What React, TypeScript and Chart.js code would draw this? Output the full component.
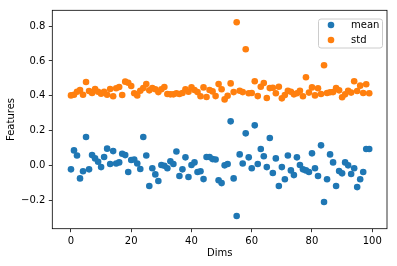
import React, { useEffect, useRef } from "react";
import { Chart, registerables } from "chart.js";

Chart.register(...registerables);

const dims: number[] = Array.from({ length: 100 }, (_, i) => i);

const meanValues: number[] = [
  -0.023, 0.086, 0.057, -0.075, -0.034, 0.163, -0.023, 0.059, 0.040, 0.021,
  -0.010, 0.048, 0.096, 0.008, 0.082, 0.011, 0.017, 0.067, 0.059, -0.038,
  0.031, 0.034, 0.011, -0.021, 0.163, 0.057, -0.119, -0.017, -0.052, -0.090,
  0.002, -0.002, -0.017, 0.023, 0.008, 0.080, -0.061, -0.023, 0.046, -0.067,
  0.002, 0.017, -0.038, -0.034, -0.079, 0.048, 0.048, 0.036, 0.034, -0.086,
  -0.102, 0.000, 0.008, 0.253, -0.075, -0.291, 0.063, 0.011, 0.184, 0.046,
  -0.017, 0.230, 0.008, 0.094, 0.052, -0.010, 0.157, -0.044, 0.040, -0.119,
  -0.010, -0.080, 0.057, -0.029, -0.056, 0.046, 0.002, -0.023, -0.029, -0.038,
  0.069, -0.017, -0.061, 0.115, -0.211, -0.080, 0.063, 0.017, -0.119, -0.033,
  -0.046, 0.017, 0.000, -0.050, -0.017, -0.125, -0.080, -0.038, 0.094, 0.094,
];

const stdValues: number[] = [
  0.402, 0.406, 0.423, 0.433, 0.406, 0.479, 0.427, 0.416, 0.439, 0.423,
  0.412, 0.423, 0.406, 0.439, 0.397, 0.443, 0.450, 0.404, 0.481, 0.475,
  0.456, 0.414, 0.402, 0.429, 0.444, 0.467, 0.431, 0.444, 0.437, 0.421,
  0.437, 0.450, 0.410, 0.408, 0.408, 0.414, 0.410, 0.416, 0.437, 0.423,
  0.448, 0.433, 0.421, 0.397, 0.448, 0.393, 0.433, 0.425, 0.398, 0.467,
  0.437, 0.379, 0.400, 0.471, 0.421, 0.822, 0.429, 0.421, 0.667, 0.414,
  0.416, 0.483, 0.398, 0.452, 0.473, 0.387, 0.444, 0.446, 0.414, 0.452,
  0.385, 0.404, 0.429, 0.423, 0.408, 0.414, 0.429, 0.397, 0.506, 0.418,
  0.448, 0.402, 0.443, 0.410, 0.575, 0.416, 0.420, 0.421, 0.444, 0.431,
  0.391, 0.408, 0.429, 0.418, 0.483, 0.427, 0.458, 0.416, 0.466, 0.414,
];

const seriesLabels: string[] = ["mean", "std"];
const seriesColors: string[] = ["#1f77b4", "#ff7f0e"];
const xTicks: number[] = [0, 20, 40, 60, 80, 100];
const yTicks: number[] = [-0.2, 0, 0.2, 0.4, 0.6, 0.8];

const FONT = "'DejaVu Sans', sans-serif";

const framePlugin = {
  id: "frameAndLegend",
  afterDraw(chart: any) {
    const { ctx, chartArea } = chart;
    const { left, right, top, bottom } = chartArea;
    ctx.save();
    ctx.strokeStyle = "#000";
    ctx.lineWidth = 0.8;
    ctx.strokeRect(left, top, right - left, bottom - top);

    // legend (upper right, inside axes)
    const bx = 318.5, by = 19, bw = 64, bh = 29, r = 2.5;
    ctx.beginPath();
    ctx.moveTo(bx + r, by);
    ctx.lineTo(bx + bw - r, by);
    ctx.arcTo(bx + bw, by, bx + bw, by + r, r);
    ctx.lineTo(bx + bw, by + bh - r);
    ctx.arcTo(bx + bw, by + bh, bx + bw - r, by + bh, r);
    ctx.lineTo(bx + r, by + bh);
    ctx.arcTo(bx, by + bh, bx, by + bh - r, r);
    ctx.lineTo(bx, by + r);
    ctx.arcTo(bx, by, bx + r, by, r);
    ctx.closePath();
    ctx.fillStyle = "rgba(255,255,255,0.8)";
    ctx.fill();
    ctx.strokeStyle = "#cccccc";
    ctx.lineWidth = 1;
    ctx.stroke();

    ctx.font = `10px ${FONT}`;
    ctx.textBaseline = "middle";
    ctx.textAlign = "left";
    chart.data.datasets.forEach((ds: any, i: number) => {
      const y = 25 + i * 15;
      ctx.beginPath();
      ctx.arc(331, y, 3.3, 0, Math.PI * 2);
      ctx.fillStyle = ds.backgroundColor;
      ctx.fill();
      ctx.fillStyle = "#000";
      ctx.fillText(ds.label, 351, y);
    });
    ctx.restore();
  },
};

export default function App() {
  const ref = useRef<HTMLCanvasElement | null>(null);

  useEffect(() => {
    document.body.style.margin = "0";
    const canvas = ref.current;
    if (!canvas) return;
    const chart = new Chart(canvas, {
      type: "scatter",
      data: {
        datasets: [meanValues, stdValues].map((vals, k) => ({
          label: seriesLabels[k],
          data: dims.map((d, i) => ({ x: d, y: vals[i] })),
          backgroundColor: seriesColors[k],
          borderColor: seriesColors[k],
          borderWidth: 0,
          pointRadius: 3.3,
          pointHoverRadius: 3.3,
        })),
      },
      options: {
        responsive: false,
        devicePixelRatio: 1,
        animation: false,
        events: [],
        layout: { padding: { top: 10.3, right: 10, left: 0, bottom: 0 } },
        plugins: {
          legend: { display: false },
          tooltip: { enabled: false },
        },
        scales: {
          x: {
            type: "linear",
            min: -6.2,
            max: 104.9,
            afterFit: (s: any) => {
              s.height = 37.3;
            },
            afterBuildTicks: (s: any) => {
              s.ticks = xTicks.map((v) => ({ value: v }));
            },
            border: { display: false },
            grid: {
              drawOnChartArea: false,
              drawTicks: true,
              tickLength: 3.5,
              tickColor: "#000",
              lineWidth: 0.8,
            },
            ticks: {
              padding: 3,
              color: "#000",
              font: { family: FONT, size: 10 },
              maxRotation: 0,
              callback: (v: any) => String(v),
            },
            title: {
              display: true,
              text: "Dims",
              color: "#000",
              font: { family: FONT, size: 10 },
              padding: { top: 0, bottom: 7 },
            },
          },
          y: {
            type: "linear",
            min: -0.364,
            max: 0.891,
            afterFit: (s: any) => {
              s.width = 52.3;
            },
            afterBuildTicks: (s: any) => {
              s.ticks = yTicks.map((v) => ({ value: v }));
            },
            border: { display: false },
            grid: {
              drawOnChartArea: false,
              drawTicks: true,
              tickLength: 3.5,
              tickColor: "#000",
              lineWidth: 0.8,
            },
            ticks: {
              padding: 3.5,
              color: "#000",
              font: { family: FONT, size: 10 },
              callback: (v: any) => Number(v).toFixed(1).replace("-", "\u2212"),
            },
            title: {
              display: true,
              text: "Features",
              color: "#000",
              font: { family: FONT, size: 10 },
              padding: { top: 5, bottom: 0 },
            },
          },
        },
      },
      plugins: [framePlugin],
    } as any);
    return () => chart.destroy();
  }, []);

  return (
    <div style={{ width: 397, height: 266, background: "#fff" }}>
      <canvas ref={ref} width={397} height={266} style={{ display: "block" }} />
    </div>
  );
}
